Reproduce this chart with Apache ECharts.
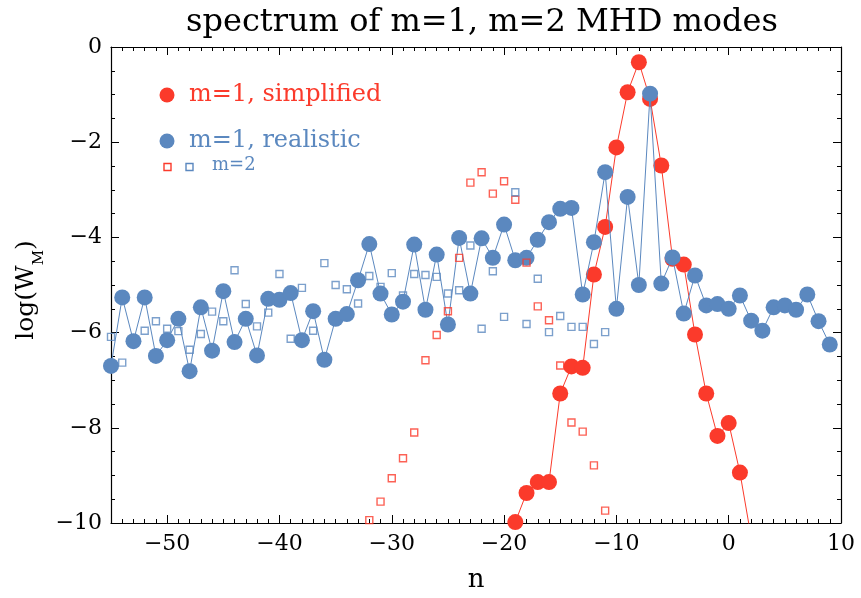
<!DOCTYPE html>
<html>
<head>
<meta charset="utf-8">
<script src="https://cdn.jsdelivr.net/npm/echarts@6/dist/echarts.min.js"></script>
<style>
  html, body { margin: 0; padding: 0; background: #fff; }
  #chart { width: 861px; height: 598px; }
</style>
</head>
<body>
<div id="chart"></div>
<script>
// m=1, realistic equilibrium: toroidal mode number n and log of mode energy
const realisticN = [-55, -54, -53, -52, -51, -50, -49, -48, -47, -46, -45, -44, -43, -42, -41, -40,
  -39, -38, -37, -36, -35, -34, -33, -32, -31, -30, -29, -28, -27, -26, -25, -24, -23, -22, -21, -20,
  -19, -18, -17, -16, -15, -14, -13, -12, -11, -10, -9, -8, -7, -6, -5, -4, -3, -2, -1, 0,
  1, 2, 3, 4, 5, 6, 7, 8, 9];
const realisticLogW = [-6.70, -5.26, -6.18, -5.26, -6.49, -6.16, -5.71, -6.81, -5.47, -6.38, -5.13, -6.20, -5.71, -6.48, -5.29, -5.31,
  -5.17, -6.16, -5.55, -6.57, -5.71, -5.61, -4.90, -4.14, -5.18, -5.62, -5.35, -4.15, -5.52, -4.36, -5.83, -4.01, -5.18, -4.02, -4.43, -3.73,
  -4.48, -4.43, -4.05, -3.68, -3.40, -3.38, -5.20, -4.10, -2.63, -5.50, -3.15, -5.00, -0.98, -4.97, -4.42, -5.60, -4.80, -5.43, -5.40, -5.50,
  -5.22, -5.75, -5.96, -5.47, -5.43, -5.52, -5.20, -5.76, -6.25];

// m=1, simplified equilibrium
const simplifiedN = [-19, -18, -17, -16, -15, -14, -13, -12, -11, -10, -9, -8, -7, -6, -5, -4, -3, -2, -1, 0, 1, 2];
const simplifiedLogW = [-9.98, -9.37, -9.14, -9.14, -7.28, -6.71, -6.74, -4.78, -3.78, -2.11, -0.95, -0.32, -1.09, -2.49, -4.45, -4.57,
  -6.04, -7.28, -8.17, -7.90, -8.94, -10.30];

// m=2, simplified equilibrium
const m2SimplifiedN = [-32, -31, -30, -29, -28, -27, -26, -25, -24, -23, -22, -21, -20, -19, -18, -17, -16, -15, -14, -13, -12, -11];
const m2SimplifiedLogW = [-9.94, -9.55, -9.06, -8.64, -8.10, -6.58, -6.05, -5.55, -4.43, -2.85, -2.63, -3.08, -2.82, -3.21, -4.53, -5.45,
  -5.74, -6.69, -7.89, -8.08, -8.79, -9.74];

// m=2, realistic equilibrium
const m2RealisticN = [-55, -54, -52, -51, -50, -49, -48, -47, -46, -45, -44, -43, -42, -41, -40, -39, -38, -37, -36, -35, -34, -33,
  -32, -31, -30, -29, -28, -27, -26, -25, -24, -23, -22, -21, -20, -19, -18, -17, -16, -15, -14, -13, -12, -11];
const m2RealisticLogW = [-6.09, -6.63, -5.96, -5.76, -5.92, -5.97, -6.36, -6.03, -5.56, -5.76, -4.69, -5.40, -5.87, -5.58, -4.77, -6.13,
  -5.06, -5.96, -4.54, -5.00, -5.09, -5.39, -4.81, -5.04, -4.75, -5.22, -4.77, -4.79, -4.83, -5.18, -5.11, -4.17, -5.92, -4.71, -5.67,
  -3.05, -5.82, -4.87, -5.99, -5.65, -5.88, -5.88, -6.24, -5.99];

// axis ticks
const xMajorTicks = [-50, -40, -30, -20, -10, 0, 10];
const xMin = -55, xMax = 10;
const yMin = -10, yMax = 0;

const RED = '#fb3a2b';
const BLUE = '#5b88bf';
const FONT = 'DejaVu Serif';

const pairs = (xs, ys) => xs.map((x, i) => [x, ys[i]]);
const minusFmt = v => (v < 0 ? '\u2212' + Math.abs(v) : String(v));

const chart = echarts.init(document.getElementById('chart'), null, { renderer: 'canvas' });

const gridBox = { left: 111, top: 47, width: 730, height: 476 };
const frameLine = { show: true, onZero: false, lineStyle: { color: '#000', width: 1.2 } };
const noLine = { show: false, onZero: false };
const tickStyle = { color: '#000', width: 1 };

chart.setOption({
  animation: false,
  backgroundColor: '#fff',
  title: {
    text: 'spectrum of m=1, m=2 MHD modes',
    left: 477,
    textAlign: 'center',
    top: 2,
    textStyle: { fontFamily: FONT, fontSize: 32, fontWeight: 'normal', color: '#000' }
  },
  grid: [
    Object.assign({ containLabel: false }, gridBox),
    Object.assign({ containLabel: false }, gridBox)
  ],
  xAxis: [
    {
      // bottom: frame, major ticks and labels
      type: 'value', gridIndex: 0, position: 'bottom', min: xMin, max: xMax,
      axisLine: frameLine,
      axisTick: { show: true, inside: true, length: 8, customValues: xMajorTicks, lineStyle: tickStyle },
      axisLabel: { show: true, customValues: xMajorTicks, formatter: minusFmt, fontFamily: FONT, fontSize: 22, color: '#000', margin: 10 },
      splitLine: { show: false },
      name: 'n', nameLocation: 'middle', nameGap: 44,
      nameTextStyle: { fontFamily: FONT, fontSize: 26, color: '#000' }
    },
    {
      // top: frame and major ticks
      type: 'value', gridIndex: 0, position: 'top', min: xMin, max: xMax,
      axisLine: frameLine,
      axisTick: { show: true, inside: true, length: 8, customValues: xMajorTicks, lineStyle: tickStyle },
      axisLabel: { show: false },
      splitLine: { show: false }
    },
    {
      // bottom: minor ticks at every integer n
      type: 'value', gridIndex: 1, position: 'bottom', min: xMin, max: xMax, interval: 1,
      axisLine: noLine,
      axisTick: { show: true, inside: true, length: 4, lineStyle: tickStyle },
      axisLabel: { show: false },
      splitLine: { show: false }
    },
    {
      // top: minor ticks at every integer n
      type: 'value', gridIndex: 1, position: 'top', min: xMin, max: xMax, interval: 1,
      axisLine: noLine,
      axisTick: { show: true, inside: true, length: 4, lineStyle: tickStyle },
      axisLabel: { show: false },
      splitLine: { show: false }
    }
  ],
  yAxis: [
    {
      type: 'value', gridIndex: 0, position: 'left', min: yMin, max: yMax, interval: 2,
      axisLine: frameLine,
      axisTick: { show: true, inside: true, length: 8, lineStyle: tickStyle },
      minorTick: { show: true, splitNumber: 4, length: 4, lineStyle: tickStyle },
      axisLabel: { show: true, formatter: minusFmt, fontFamily: FONT, fontSize: 22, color: '#000', margin: 9 },
      splitLine: { show: false },
      minorSplitLine: { show: false }
    },
    {
      type: 'value', gridIndex: 0, position: 'right', min: yMin, max: yMax, interval: 2,
      axisLine: frameLine,
      axisTick: { show: true, inside: true, length: 8, lineStyle: tickStyle },
      minorTick: { show: true, splitNumber: 4, length: 4, lineStyle: tickStyle },
      axisLabel: { show: false },
      splitLine: { show: false },
      minorSplitLine: { show: false }
    },
    {
      type: 'value', gridIndex: 1, position: 'left', min: yMin, max: yMax,
      axisLine: noLine, axisTick: { show: false }, axisLabel: { show: false }, splitLine: { show: false }
    }
  ],
  graphic: [
    {
      type: 'text', x: 26, y: 290, rotation: Math.PI / 2,
      style: {
        text: '{a|log(W}{s|M}{a|)}',
        align: 'center', verticalAlign: 'middle',
        rich: {
          a: { fontFamily: FONT, fontSize: 25, fill: '#000', lineHeight: 30, verticalAlign: 'middle' },
          s: { fontFamily: FONT, fontSize: 15, fill: '#000', lineHeight: 30, verticalAlign: 'bottom', padding: [0, 0, -6, 0] }
        }
      }
    },
    // legend
    { type: 'circle', shape: { cx: 167, cy: 95, r: 7.5 }, style: { fill: RED } },
    { type: 'text', x: 189, y: 95, style: { text: 'm=1, simplified', fill: RED, font: '24px "DejaVu Serif"', verticalAlign: 'middle' } },
    { type: 'circle', shape: { cx: 167, cy: 141, r: 7.5 }, style: { fill: BLUE } },
    { type: 'text', x: 189, y: 141, style: { text: 'm=1, realistic', fill: BLUE, font: '24px "DejaVu Serif"', verticalAlign: 'middle' } },
    { type: 'rect', shape: { x: 164, y: 163.5, width: 7, height: 7 }, style: { fill: 'none', stroke: RED, lineWidth: 1.4 } },
    { type: 'rect', shape: { x: 186, y: 163.5, width: 7, height: 7 }, style: { fill: 'none', stroke: BLUE, lineWidth: 1.4 } },
    { type: 'text', x: 212, y: 165, style: { text: 'm=2', fill: BLUE, font: '18px "DejaVu Serif"', verticalAlign: 'middle' } }
  ],
  series: [
    {
      name: 'm=1, simplified', type: 'line', xAxisIndex: 0, yAxisIndex: 0,
      data: pairs(simplifiedN, simplifiedLogW),
      symbol: 'circle', symbolSize: 16, showAllSymbol: true, clip: true,
      lineStyle: { color: RED, width: 1 }, itemStyle: { color: RED }, z: 2
    },
    {
      name: 'm=1, realistic', type: 'line', xAxisIndex: 0, yAxisIndex: 0,
      data: pairs(realisticN, realisticLogW),
      symbol: 'circle', symbolSize: 16, showAllSymbol: true, clip: true,
      lineStyle: { color: BLUE, width: 1 }, itemStyle: { color: BLUE }, z: 3
    },
    {
      name: 'm=2, simplified', type: 'scatter', xAxisIndex: 0, yAxisIndex: 0,
      data: pairs(m2SimplifiedN, m2SimplifiedLogW),
      symbol: 'rect', symbolSize: 7, clip: true,
      itemStyle: { color: 'rgba(0,0,0,0)', borderColor: RED, borderWidth: 1.4 }, z: 4
    },
    {
      name: 'm=2, realistic', type: 'scatter', xAxisIndex: 0, yAxisIndex: 0,
      data: pairs(m2RealisticN, m2RealisticLogW),
      symbol: 'rect', symbolSize: 7, clip: true,
      itemStyle: { color: 'rgba(0,0,0,0)', borderColor: BLUE, borderWidth: 1.4 }, z: 4
    }
  ]
});
</script>
</body>
</html>
